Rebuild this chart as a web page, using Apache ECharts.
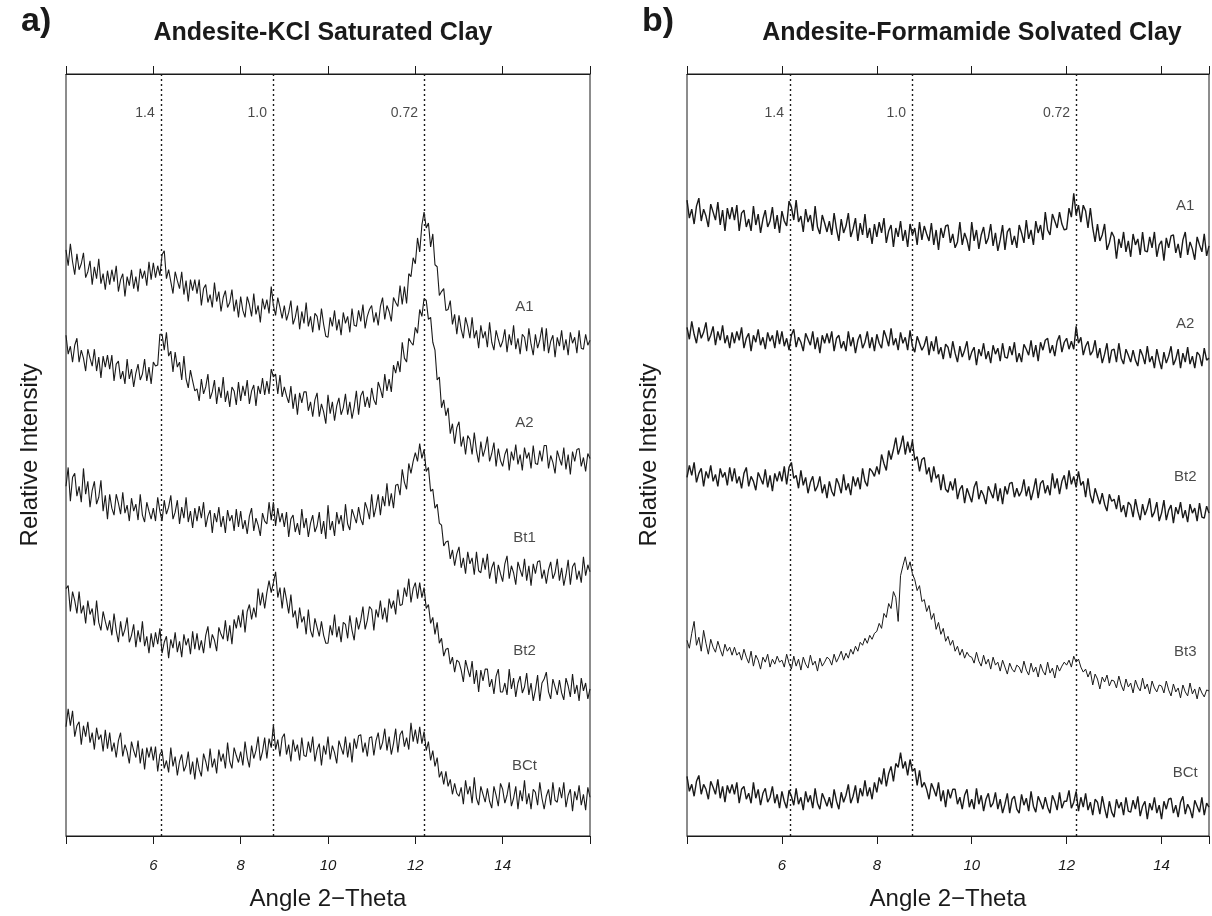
<!DOCTYPE html>
<html>
<head>
<meta charset="utf-8">
<script src="https://cdn.jsdelivr.net/npm/echarts@6/dist/echarts.min.js"></script>
<style>html,body{margin:0;padding:0;background:#fff;}#c{width:1212px;height:916px;}</style>
</head>
<body>
<div id="c"></div>
<script>
// Angle axis extents and tick labels
const leftRange = [4, 16];
const rightRange = [4, 15];
const tickLabels = [6, 8, 10, 12, 14];
// Reference d-spacing lines (nm) and their 2-theta positions
const dLabels = ['1.4', '1.0', '0.72'];
const dAngles = [6.17, 8.74, 12.2];

// Intensities (offset units), one row per degree 2-theta, evenly sampled inside each row
const leftA1 = [
[590,574,596,578,565,586,570,576,587,562,568,579,555,573,561,581,556,566,550,569],
[555,570,558,574,548,560,566,543,563,554,570,551,563,548,571,561,569,554,578,560],
[577,562,574,564,585,589,561,570,558,546,568,559,551,568,545,559,538,560,549,560],
[546,560,534,551,555,537,545,532,557,538,548,528,542,549,532,537,550,528,540,522],
[543,529,522,543,535,523,546,525,534,517,541,530,540,526,553,534,524,542,532,521],
[534,519,527,539,515,522,534,510,528,516,537,513,523,507,526,523,509,531,515,503],
[502,522,513,529,509,520,504,527,516,523,507,531,514,513,529,518,535,511,523,530],
[534,517,527,514,533,542,520,534,528,518,542,537,533,554,535,553,536,566,563,582],
[576,602,588,615,628,612,617,593,606,575,573,544,548,551,529,530,539,515,525,505],
[524,510,501,522,513,501,522,501,509,491,514,501,508,492,517,497,489,509,500,492],
[498,510,487,505,494,514,490,501,485,505,502,488,511,495,484,505,491,499,512,488],
[511,486,498,504,482,502,493,509,489,500,484,507,496,502,486,509,491,490,505,494],
[499]
];
const leftA2 = [
[504,485,493,477,494,501,477,489,481,468,490,481,473,490,468,482,461,483,472,484],
[470,484,458,475,478,460,468,455,480,460,470,452,466,475,459,465,480,458,472,455],
[477,473,474,505,505,489,507,483,488,467,487,472,477,459,483,460,451,469,458,448],
[450,438,460,445,452,465,440,447,459,435,452,441,462,437,448,432,452,448,434,457],
[438,453,443,459,435,448,454,433,453,445,461,444,458,445,470,462,465,445,464,442],
[452,443,436,453,430,445,424,446,436,447,447,428,437,422,439,446,422,435,427,415],
[444,425,437,418,433,441,424,431,445,424,437,420,432,448,424,443,448,432,442,431],
[451,439,434,457,450,441,465,448,460,447,474,466,478,467,497,481,477,501,497,494],
[512,506,530,523,541,539,520,522,497,489,459,462,431,439,423,431,405,415,395,411],
[417,392,402,384,403,399,384,406,388,376,397,382,390,402,377,385,396,372,390,378],
[372,384,390,368,387,378,394,374,384,368,391,380,386,370,393,375,374,388,377,393],
[393,370,383,376,365,388,380,373,391,369,384,364,387,377,389,390,372,381,367,385],
[380]
];
const leftBt1 = [
[352,371,337,361,365,342,352,336,370,344,357,331,348,357,334,341,358,327,343,319],
[344,330,323,344,335,324,346,325,333,317,340,327,334,318,344,323,316,336,327,319],
[330,317,341,327,317,338,324,331,343,319,326,338,314,331,320,341,316,327,310,330],
[317,332,320,336,311,322,328,305,325,316,331,311,322,305,328,317,323,307,329,311],
[327,309,318,304,322,330,307,320,313,302,325,317,314,336,318,336,312,330,316,325],
[311,326,301,319,323,306,315,303,329,310,320,301,315,323,306,312,326,304,317,299],
[333,308,317,302,326,314,323,307,334,314,308,329,322,315,331,319,313,336,329,319],
[344,321,331,344,323,342,332,355,332,345,330,353,354,343,369,356,349,375,365,377],
[386,377,395,380,389,367,371,347,349,330,334,315,313,292,296,297,279,288,272,284],
[291,270,280,264,286,274,280,263,286,267,265,280,268,284,259,270,276,254,273,264],
[256,274,282,259,272,265,253,276,268,261,279,257,272,252,274,264,276,277,259,268],
[254,268,276,259,265,279,257,270,252,263,278,253,271,275,258,267,255,281,262,273],
[266]
];
const leftBt2 = [
[249,252,226,246,237,224,246,224,232,214,237,223,229,212,237,215,207,226,216,207],
[217,202,224,207,195,216,201,208,220,195,202,213,190,207,195,216,191,201,184,204],
[190,205,193,209,184,195,201,179,198,189,205,185,196,180,203,192,199,183,206,188],
[204,187,197,184,202,211,189,203,197,186,210,203,198,217,196,212,193,218,209,222],
[210,228,205,226,233,218,230,220,249,232,245,229,245,257,245,255,266,240,250,229],
[250,238,224,243,220,227,209,230,215,221,203,228,207,200,219,210,201,216,202,194],
[194,212,202,223,200,211,195,215,213,199,222,207,197,220,208,217,231,208,217,231],
[228,207,228,220,237,218,230,215,239,229,237,223,248,232,233,250,241,259,235,249],
[255,239,255,240,250,229,233,214,220,203,215,194,199,181,188,189,173,180,165,177],
[175,167,155,177,168,160,176,153,167,145,167,156,168,168,150,158,143,161,168,145],
[145,154,142,168,148,159,140,154,161,144,150,164,142,154,136,147,162,136,154,158],
[165,145,138,158,150,142,157,144,137,159,151,140,163,143,152,136,159,146,154,138],
[148]
];
const leftBCt = [
[110,128,111,126,100,111,115,92,111,100,115,94,104,87,109,97,102,85,107,88],
[104,85,94,79,96,104,80,92,85,73,95,86,79,96,73,88,67,89,79,90],
[76,90,65,82,86,68,76,64,89,70,80,61,75,82,65,71,85,62,75,57],
[79,67,60,83,75,65,88,69,78,63,87,75,83,68,94,75,68,89,81,74],
[85,71,95,79,69,91,78,86,100,76,85,99,78,98,89,112,87,97,80,99],
[103,82,92,75,97,85,92,76,99,81,80,95,84,100,75,87,93,71,91,82],
[100,77,91,84,73,96,89,82,100,79,94,74,98,88,101,102,84,94,80,99],
[100,81,96,104,87,94,108,86,100,82,93,108,84,102,106,90,99,87,114,95],
[107,93,110,93,105,86,95,76,86,70,79,59,65,52,65,50,57,42,53,43],
[40,49,32,56,42,50,33,59,38,31,50,42,34,48,35,28,50,41,30,53],
[47,33,41,54,30,38,50,27,46,35,56,32,43,27,47,44,31,54,38,27],
[40,47,31,54,36,34,49,38,54,29,41,47,25,45,36,51,31,42,26,49],
[39]
];

const rightA1 = [
[640,622,631,616,634,642,619,631,624,613,636,628,620,638,615,630,609,632,621,633],
[620,635,609,627,630,613,621,609,634,615,626,607,621,630,613,619,633,611,625,607],
[629,619,614,639,633,620,640,618,624,608,631,618,625,609,634,613,606,625,617,608],
[619,605,627,611,599,621,607,614,627,603,611,622,599,617,605,626,602,612,596,616],
[603,618,607,622,597,609,615,593,612,603,619,599,610,593,616,605,612,595,618,600],
[614,606,599,617,595,610,590,612,602,614,615,597,606,592,598,618,595,607,600,589],
[618,599,610,591,605,613,596,602,616,594,607,589,600,615,590,608,612,595,604,592],
[615,607,597,620,601,610,595,619,607,615,600,628,610,605,626,619,612,628,616,610],
[611,632,623,647,625,635,618,635,629,612,632,612,598,616,599,605,616,590,597,608],
[603,581,601,592,608,588,599,583,606,595,601,585,608,589,588,603,592,608,583,595],
[599,579,602,592,604,605,587,596,582,600,608,585,598,591,580,603,595,588,606,584],
[594]
];
const rightA2 = [
[512,500,518,505,496,512,501,507,517,498,504,513,494,508,499,514,496,504,491,507],
[496,508,499,512,491,501,506,488,504,497,510,494,502,490,507,498,504,491,509,495],
[508,493,501,489,504,510,492,502,497,488,506,500,494,508,490,502,486,504,496,506],
[496,508,488,501,504,491,498,488,508,493,502,486,499,505,491,497,508,491,502,488],
[505,496,491,509,502,493,511,494,501,489,507,496,502,489,509,493,487,503,496,489],
[494,503,484,498,488,503,485,492,480,495,492,481,498,486,477,493,482,489,498,479],
[487,492,474,490,483,496,480,488,476,494,485,491,478,496,482,481,493,484,497,477],
[486,477,495,490,484,499,482,494,478,497,489,499,501,486,494,483,498,504,487,497],
[501,490,498,490,513,496,502,484,493,498,484,488,499,481,491,476,485,496,476,489],
[490,477,496,481,475,490,484,477,489,479,473,490,484,475,493,477,483,471,490,479],
[470,487,476,483,493,474,480,490,471,486,477,492,475,483,471,487,484,473,491,479],
[481]
];
const rightBt2 = [
[361,373,363,376,356,365,370,352,367,360,373,357,364,352,370,361,366,353,371,357],
[370,355,362,350,365,371,352,362,357,348,366,360,354,369,351,363,347,365,357,367],
[357,372,354,371,376,360,363,350,368,353,361,345,356,362,347,352,362,345,354,340],
[357,347,342,360,354,345,364,348,355,343,362,352,361,349,370,357,352,370,367,362],
[372,364,384,375,368,388,379,389,401,384,392,403,384,397,386,398,378,382,367,379],
[381,364,371,356,372,360,364,348,364,349,346,357,348,360,339,349,353,335,350,343],
[336,351,357,339,348,343,334,352,346,340,355,337,350,334,352,344,355,356,341,350],
[342,347,359,342,352,338,348,360,340,355,358,345,353,343,365,350,360,344,357,363],
[349,368,354,362,351,367,353,357,341,360,343,335,350,342,334,345,334,327,344,337],
[339,329,343,326,333,321,336,333,321,339,327,318,334,323,330,340,321,326,336,317],
[325,338,318,328,333,315,331,324,336,320,328,316,334,325,330,317,335,321,320,332],
[325]
];
const rightBt3 = [
[197,189,204,216,192,200,186,207,194,183,198,190,185,196,188,181,193,186,190,182],
[190,182,185,177,188,180,174,186,171,182,177,168,180,175,183,170,178,173,181,175],
[177,170,183,174,168,181,171,178,167,180,173,169,182,172,176,166,179,171,175,180],
[178,172,183,175,180,186,177,184,179,188,183,191,186,195,192,199,194,202,198,204],
[206,214,209,224,220,234,229,246,240,216,262,272,281,268,276,264,258,247,252,236],
[238,226,232,218,224,208,215,203,209,196,201,192,197,186,191,182,188,179,185,181],
[180,174,185,176,171,182,173,178,168,180,172,175,166,177,170,163,174,168,165,172],
[170,164,176,167,162,174,165,170,160,173,166,162,175,164,169,159,172,166,171,175],
[172,177,170,181,175,178,170,165,168,160,166,152,163,158,148,160,155,162,151,157],
[156,149,161,152,146,158,150,154,144,157,150,146,159,148,153,143,156,149,145,152],
[151,144,156,147,141,153,145,149,139,152,145,141,154,143,148,138,150,144,140,147],
[146]
];
const rightBCt = [
[60,45,52,40,55,61,42,52,47,37,55,49,42,57,38,50,34,51,43,52],
[42,54,33,47,50,37,43,33,54,38,47,31,43,48,34,39,50,33,42,28],
[45,35,28,46,40,31,48,32,39,26,45,34,41,28,48,33,27,43,37,30],
[39,28,47,35,27,44,34,41,52,33,40,51,33,48,40,56,40,49,37,54],
[44,59,52,68,50,63,70,55,73,69,84,68,75,61,77,65,68,51,66,49],
[54,47,37,53,47,40,54,35,46,29,47,38,47,47,32,39,27,41,47,29],
[37,27,48,32,41,25,37,43,29,33,44,27,37,23,32,43,23,37,40,27],
[23,42,31,38,25,45,30,24,40,34,27,39,29,23,41,35,26,44,28,35],
[35,46,28,34,45,25,39,29,43,26,34,21,37,34,22,40,28,18,35,24],
[19,37,28,34,21,39,25,24,36,27,40,20,30,35,17,33,26,39,23,31],
[17,35,27,37,38,23,31,19,34,40,22,32,27,18,36,30,24,39,21,33],
[29]
];

// Sample names and the intensity level where each name is written (at 14.5 deg)
const leftNames = ['A1', 'A2', 'Bt1', 'Bt2', 'BCt'];
const leftNameLevels = [533, 416, 300, 186, 71];
const rightNames = ['A1', 'A2', 'Bt2', 'Bt3', 'BCt'];
const rightNameLevels = [634, 516, 362, 185, 64];
const nameAngle = 14.5;
const dLabelLevel = 728;

function toPairs(rows, x0) {
  const out = [];
  rows.forEach((row, r) => {
    row.forEach((v, j) => out.push([x0 + r + j / row.length, v]));
  });
  return out;
}

const FONT = '"Liberation Sans", Arial, Helvetica, sans-serif';
const INK = '#1a1a1a';

function xAxes(gi, range) {
  const common = {
    type: 'value', gridIndex: gi, min: range[0], max: range[1], interval: 2,
    axisLine: { show: true, lineStyle: { color: INK, width: 1 } },
    axisTick: { show: true, inside: false, length: 8, lineStyle: { color: INK, width: 1 } },
    splitLine: { show: false }
  };
  return [
    Object.assign({}, common, {
      position: 'bottom',
      name: 'Angle 2\u2212Theta', nameLocation: 'middle', nameGap: 51,
      nameTextStyle: { fontFamily: FONT, fontSize: 24, color: INK },
      axisLabel: {
        show: true, margin: 22, fontFamily: FONT, fontSize: 15, fontStyle: 'italic', color: INK,
        formatter: v => (tickLabels.indexOf(v) >= 0 ? String(v) : '')
      }
    }),
    Object.assign({}, common, { position: 'top', axisLabel: { show: false } })
  ];
}

function yAxis(gi, gap) {
  return {
    type: 'value', gridIndex: gi, min: 0, max: 767,
    axisLine: { show: false }, axisTick: { show: false }, axisLabel: { show: false }, splitLine: { show: false },
    name: 'Relative Intensity', nameLocation: 'middle', nameGap: gap, nameRotate: 90,
    nameTextStyle: { fontFamily: FONT, fontSize: 24, color: INK }
  };
}

function traceSeries(rows, xi, yi, width, withLines) {
  const s = {
    type: 'line', xAxisIndex: xi, yAxisIndex: yi, data: toPairs(rows, 4),
    showSymbol: false, symbol: 'none', lineStyle: { color: INK, width: width }, silent: true,
    z: 3
  };
  if (withLines) {
    s.markLine = {
      silent: true, symbol: ['none', 'none'], label: { show: false },
      lineStyle: { type: [2, 3], color: INK, width: 1.4 },
      data: dAngles.map(a => ({ xAxis: a }))
    };
  }
  return s;
}

function labelSeries(names, levels, xi, yi) {
  return {
    type: 'scatter', xAxisIndex: xi, yAxisIndex: yi, symbolSize: 0, silent: true,
    data: names.map((n, i) => ({ name: n, value: [nameAngle, levels[i]] })),
    label: { show: true, position: 'inside', formatter: '{b}', fontFamily: FONT, fontSize: 15, color: INK }
  };
}

function dSeries(xi, yi) {
  return {
    type: 'scatter', xAxisIndex: xi, yAxisIndex: yi, symbolSize: 0, silent: true,
    data: dLabels.map((n, i) => ({ name: n, value: [dAngles[i], dLabelLevel] })),
    label: { show: true, position: 'left', distance: 6, formatter: '{b}', fontFamily: FONT, fontSize: 14, color: INK }
  };
}

const chart = echarts.init(document.getElementById('c'), null, { renderer: 'canvas' });
chart.setOption({
  animation: false,
  backgroundColor: '#fff',
  title: [
    { text: 'a)', left: 16, top: 0, textStyle: { fontFamily: FONT, fontSize: 34, fontWeight: 'bold', color: INK } },
    { text: 'Andesite-KCl Saturated Clay', left: 318, top: 16, textAlign: 'center', textStyle: { fontFamily: FONT, fontSize: 25, fontWeight: 'bold', color: INK } },
    { text: 'b)', left: 637, top: 0, textStyle: { fontFamily: FONT, fontSize: 34, fontWeight: 'bold', color: INK } },
    { text: 'Andesite-Formamide Solvated Clay', left: 967, top: 16, textAlign: 'center', textStyle: { fontFamily: FONT, fontSize: 25, fontWeight: 'bold', color: INK } }
  ],
  grid: [
    { left: 66, top: 74, width: 524, height: 767, show: true, borderColor: INK, borderWidth: 1, backgroundColor: 'transparent' },
    { left: 687, top: 74, width: 523, height: 767, show: true, borderColor: INK, borderWidth: 1, backgroundColor: 'transparent' }
  ],
  xAxis: xAxes(0, leftRange).concat(xAxes(1, rightRange)),
  yAxis: [yAxis(0, 24), yAxis(1, 26)],
  series: [
    traceSeries(leftA1, 0, 0, 1.1, true),
    traceSeries(leftA2, 0, 0, 1.1, false),
    traceSeries(leftBt1, 0, 0, 1.1, false),
    traceSeries(leftBt2, 0, 0, 1.1, false),
    traceSeries(leftBCt, 0, 0, 1.1, false),
    labelSeries(leftNames, leftNameLevels, 0, 0),
    dSeries(0, 0),
    traceSeries(rightA1, 2, 1, 1.4, true),
    traceSeries(rightA2, 2, 1, 1.4, false),
    traceSeries(rightBt2, 2, 1, 1.4, false),
    traceSeries(rightBt3, 2, 1, 1.0, false),
    traceSeries(rightBCt, 2, 1, 1.4, false),
    labelSeries(rightNames, rightNameLevels, 2, 1),
    dSeries(2, 1)
  ]
});
</script>
</body>
</html>
